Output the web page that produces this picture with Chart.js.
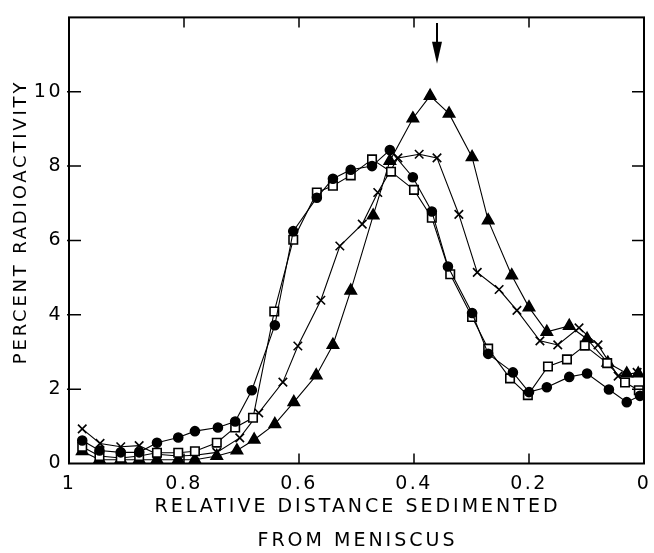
<!DOCTYPE html>
<html>
<head>
<meta charset="utf-8">
<script src="https://cdn.jsdelivr.net/npm/chart.js@4.4.1/dist/chart.umd.min.js"></script>
<style>
    body { margin: 0; background: #fff; }
    #wrap { width: 654px; height: 553px; }
</style>
</head>
<body>
<div id="wrap"><canvas id="sed-chart"></canvas></div>
<script>
// relative distance sedimented (x) and percent radioactivity (y) for each curve
const circleX = [0.977, 0.947, 0.910, 0.878, 0.847, 0.810, 0.781, 0.741, 0.711, 0.682, 0.642, 0.610, 0.569, 0.541, 0.510,
    0.473, 0.442, 0.402, 0.369, 0.341, 0.299, 0.271, 0.228, 0.200, 0.169, 0.130, 0.099, 0.061, 0.030, 0.007];
const circleY = [0.62, 0.35, 0.30, 0.30, 0.56, 0.70, 0.87, 0.97, 1.13, 1.97, 3.72, 6.25, 7.15, 7.66, 7.90,
    8.00, 8.43, 7.70, 6.78, 5.30, 4.05, 2.95, 2.45, 1.92, 2.05, 2.33, 2.42, 1.99, 1.65, 1.82];

const squareX = [0.977, 0.947, 0.910, 0.878, 0.847, 0.810, 0.781, 0.743, 0.711, 0.680, 0.643, 0.610, 0.569, 0.541, 0.510,
    0.473, 0.440, 0.400, 0.369, 0.337, 0.299, 0.271, 0.233, 0.202, 0.167, 0.134, 0.103, 0.064, 0.033, 0.009];
const squareY = [0.45, 0.20, 0.15, 0.20, 0.29, 0.29, 0.33, 0.56, 0.97, 1.23, 4.09, 6.02, 7.29, 7.47, 7.75,
    8.18, 7.85, 7.36, 6.61, 5.09, 3.94, 3.09, 2.29, 1.84, 2.61, 2.80, 3.17, 2.70, 2.18, 1.97];

const crossX = [0.977, 0.946, 0.910, 0.878, 0.847, 0.810, 0.781, 0.743, 0.703, 0.670, 0.628, 0.602, 0.562, 0.529, 0.490,
    0.463, 0.428, 0.391, 0.360, 0.322, 0.290, 0.252, 0.221, 0.181, 0.150, 0.113, 0.080, 0.045, 0.012];
const crossY = [0.93, 0.54, 0.45, 0.48, 0.25, 0.20, 0.22, 0.30, 0.69, 1.36, 2.19, 3.16, 4.39, 5.85, 6.44,
    7.29, 8.22, 8.32, 8.22, 6.70, 5.14, 4.68, 4.12, 3.30, 3.19, 3.65, 3.19, 2.35, 2.45];

const triangleX = [0.977, 0.947, 0.910, 0.878, 0.847, 0.810, 0.781, 0.743, 0.708, 0.678, 0.642, 0.609, 0.570, 0.541, 0.510,
    0.471, 0.442, 0.402, 0.372, 0.339, 0.299, 0.271, 0.230, 0.200, 0.169, 0.130, 0.099, 0.063, 0.030, 0.010];
const triangleY = [0.33, 0.10, 0.10, 0.10, 0.10, 0.10, 0.10, 0.20, 0.35, 0.64, 1.06, 1.65, 2.37, 3.19, 4.65,
    6.67, 8.14, 9.28, 9.89, 9.41, 8.24, 6.54, 5.06, 4.20, 3.54, 3.70, 3.35, 2.71, 2.42, 2.42];

const xTicks = [0, 0.2, 0.4, 0.6, 0.8, 1];
const yTicks = [0, 2, 4, 6, 8, 10];
const xTitle = ['RELATIVE DISTANCE SEDIMENTED', 'FROM MENISCUS'];
const yTitle = 'PERCENT RADIOACTIVITY';
const arrowX = 0.36;

const fontName = '"DejaVu Sans", sans-serif';

function toPoints(xs, ys) {
    return xs.map((x, i) => ({x: x, y: ys[i]}));
}

const spacing = {
    id: 'spacing',
    beforeDraw(chart) {
        chart.ctx.letterSpacing = '2.5px';
    }
};

const frame = {
    id: 'frame',
    afterDraw(chart) {
        const ctx = chart.ctx;
        const area = chart.chartArea;
        const xs = chart.scales.x;
        const ys = chart.scales.y;
        ctx.save();
        ctx.strokeStyle = '#000';
        ctx.lineWidth = 2;
        ctx.strokeRect(area.left, area.top, area.right - area.left, area.bottom - area.top);

        ctx.lineWidth = 1.5;
        ctx.beginPath();
        for (const v of xTicks) {
            if (v == 0 || v == 1) continue;
            const px = xs.getPixelForValue(v);
            ctx.moveTo(px, area.bottom); ctx.lineTo(px, area.bottom - 10);
            ctx.moveTo(px, area.top); ctx.lineTo(px, area.top + 10);
        }
        for (const v of yTicks) {
            if (v == 0) continue;
            const py = ys.getPixelForValue(v);
            ctx.moveTo(area.left - 2, py); ctx.lineTo(area.left + 12, py);
            ctx.moveTo(area.right, py); ctx.lineTo(area.right - 12, py);
        }
        ctx.stroke();

        // arrow marking the peak
        const ax = xs.getPixelForValue(arrowX);
        const top = ys.getPixelForValue(11.85);
        const tip = ys.getPixelForValue(10.75);
        ctx.lineWidth = 2;
        ctx.beginPath();
        ctx.moveTo(ax, top); ctx.lineTo(ax, tip - 10);
        ctx.stroke();
        ctx.fillStyle = '#000';
        ctx.beginPath();
        ctx.moveTo(ax - 5, tip - 22);
        ctx.lineTo(ax + 5, tip - 22);
        ctx.lineTo(ax, tip);
        ctx.closePath();
        ctx.fill();

        // axis titles
        ctx.letterSpacing = '3px';
        ctx.fillStyle = '#000';
        ctx.font = '19px ' + fontName;
        ctx.textAlign = 'center';
        ctx.textBaseline = 'middle';
        const cx = (area.left + area.right) / 2;
        ctx.fillText(xTitle[0], cx + 1, 507);
        ctx.fillText(xTitle[1], cx + 1, 541);

        ctx.font = '18px ' + fontName;
        ctx.letterSpacing = '2.8px';
        ctx.translate(21, 222);
        ctx.rotate(-Math.PI / 2);
        ctx.fillText(yTitle, 0, 0);
        ctx.restore();
    }
};

const chartData = {
    datasets: [
        {
            label: 'circles',
            data: toPoints(circleX, circleY),
            pointStyle: 'circle',
            pointRadius: 4.5,
            backgroundColor: '#000',
            borderColor: '#000'
        },
        {
            label: 'squares',
            data: toPoints(squareX, squareY),
            pointStyle: 'rect',
            pointRadius: 6,
            backgroundColor: '#fff',
            borderColor: '#000'
        },
        {
            label: 'crosses',
            data: toPoints(crossX, crossY),
            pointStyle: 'crossRot',
            pointRadius: 6,
            backgroundColor: '#000',
            borderColor: '#000'
        },
        {
            label: 'triangles',
            data: toPoints(triangleX, triangleY),
            pointStyle: 'triangle',
            pointRadius: 6.5,
            backgroundColor: '#000',
            borderColor: '#000'
        }
    ]
};

const tickFont = {family: fontName, size: 19};

const config = {
    type: 'line',
    data: chartData,
    options: {
        responsive: true,
        maintainAspectRatio: false,
        animation: false,
        layout: {padding: {top: 10, right: 10, left: 0, bottom: 0}},
        elements: {
            line: {borderWidth: 1.1, tension: 0, fill: false},
            point: {borderWidth: 1.6}
        },
        plugins: {
            legend: {display: false},
            tooltip: {enabled: false}
        },
        scales: {
            x: {
                type: 'linear',
                reverse: true,
                min: 0,
                max: 1,
                afterFit: (s) => { s.height = 89.5; },
                afterBuildTicks: (s) => { s.ticks = xTicks.map(v => ({value: v})); },
                grid: {display: false, drawTicks: false},
                border: {display: false},
                ticks: {
                    autoSkip: false,
                    maxRotation: 0,
                    padding: 9,
                    color: '#000',
                    font: tickFont,
                    callback: (v) => (v == 0 || v == 1) ? String(v) : v.toFixed(1)
                }
            },
            y: {
                min: 0,
                max: 12,
                afterFit: (s) => { s.width = 69; },
                afterBuildTicks: (s) => { s.ticks = yTicks.map(v => ({value: v})); },
                grid: {display: false, drawTicks: false},
                border: {display: false},
                ticks: {
                    autoSkip: false,
                    padding: 6,
                    color: '#000',
                    font: tickFont
                }
            }
        }
    },
    plugins: [spacing, frame]
};

const chart_canvas = document.getElementById('sed-chart');
const sed_chart = new Chart(chart_canvas, config);
</script>
</body>
</html>
